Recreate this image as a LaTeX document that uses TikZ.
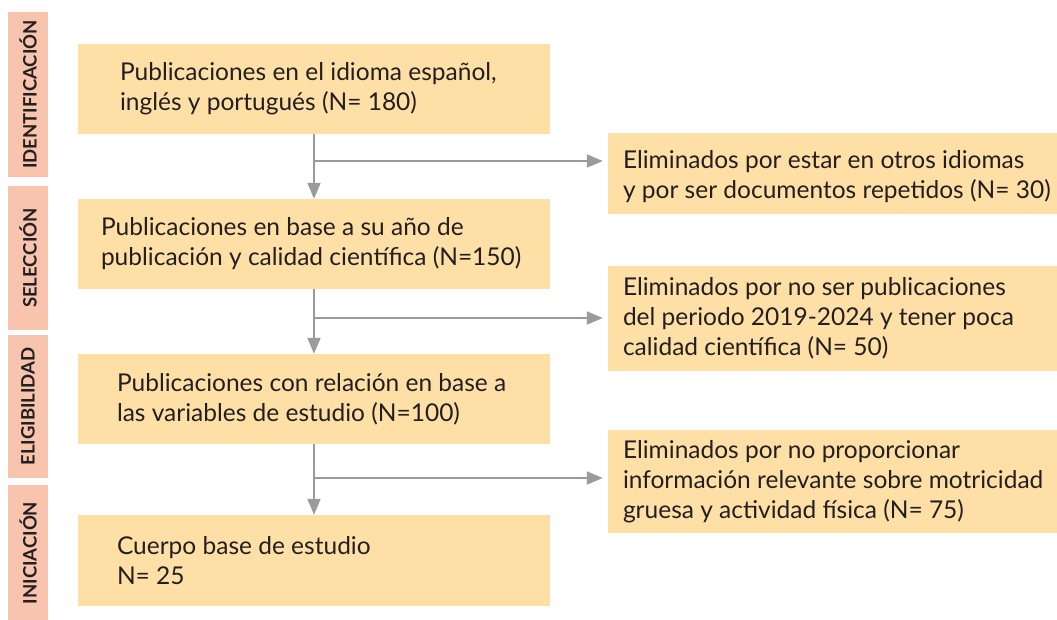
\documentclass[tikz,border=0pt]{standalone}
\usepackage{fontspec}
\setmainfont{Lato}
\usetikzlibrary{arrows.meta,calc}
\definecolor{boxfill}{HTML}{FEDFA6}
\definecolor{labfill}{HTML}{F8C4AE}
\definecolor{arrgray}{HTML}{9B9B9F}
\definecolor{ink}{HTML}{231F20}
\tikzset{
  mainbox/.style={draw=none, fill=boxfill, minimum width=472pt, inner sep=0pt},
  sidebox/.style={draw=none, fill=boxfill, minimum width=449pt, inner sep=0pt},
  labbox/.style={draw=none, fill=labfill, minimum width=40pt, inner sep=0pt},
  labtxt/.style={rotate=90, font=\fontsize{18.5}{20}\selectfont\bfseries, text=ink, inner sep=0pt},
  txt/.style={anchor=west, align=left, inner sep=0pt, text=ink, font=\fontsize{24.5}{30}\selectfont},
  arr/.style={draw=arrgray, line width=2pt, -{Triangle[length=16pt,width=13pt]}},
  ln/.style={draw=arrgray, line width=2pt}
}
\begin{document}
\begin{tikzpicture}[x=1pt,y=-1pt]
\useasboundingbox (0,0) rectangle (1057,619);
% stage labels
\node[labbox, minimum height=165pt] (l1) at (28,94.5) {};
\node[labtxt] (lt1) at (l1.center) {IDENTIFICACIÓN};
\node[labbox, minimum height=144pt] (l2) at (28,258) {};
\node[labtxt] (lt2) at (l2.center) {SELECCIÓN};
\node[labbox, minimum height=143pt] (l3) at (28,406.5) {};
\node[labtxt] (lt3) at (l3.center) {ELIGIBILIDAD};
\node[labbox, minimum height=136pt] (l4) at (28,553) {};
\node[labtxt] (lt4) at (l4.center) {INICIACIÓN};
% main boxes
\node[mainbox, minimum height=90pt] (b1) at (314,89) {};
\node[txt] (t1) at ([xshift=42pt]b1.west) {Publicaciones en el idioma español,\\inglés y portugués (N= 180)};
\node[mainbox, minimum height=90pt] (b2) at (314,244) {};
\node[txt] (t2) at ([xshift=23pt]b2.west) {Publicaciones en base a su año de\\publicación y calidad científica (N=150)};
\node[mainbox, minimum height=90pt] (b3) at (314,399) {};
\node[txt] (t3) at ([xshift=39pt]b3.west) {Publicaciones con relación en base a\\las variables de estudio (N=100)};
\node[mainbox, minimum height=91pt] (b4) at (314,560.5) {};
\node[txt] (t4) at ([xshift=39pt]b4.west) {Cuerpo base de estudio\\N= 25};
% side boxes
\node[sidebox, minimum height=81pt] (r1) at (832.5,173.5) {};
\node[txt] (s1) at ([xshift=15pt,yshift=-3pt]r1.west) {Eliminados por estar en otros idiomas\\y por ser documentos repetidos (N= 30)};
\node[sidebox, minimum height=105pt] (r2) at (832.5,318.5) {};
\node[txt] (s2) at ([xshift=15pt]r2.west) {Eliminados por no ser publicaciones\\del periodo 2019-2024 y tener poca\\calidad científica (N= 50)};
\node[sidebox, minimum height=103pt] (r3) at (832.5,481.5) {};
\node[txt] (s3) at ([xshift=15pt]r3.west) {Eliminados por no proporcionar\\información relevante sobre motricidad\\gruesa y actividad física (N= 75)};
% connectors
\draw[arr] (b1.south) -- (b2.north);
\draw[arr] (b2.south) -- (b3.north);
\draw[arr] (b3.south) -- (b4.north);
\coordinate (j1) at (314,161);
\coordinate (j2) at (314,318);
\coordinate (j3) at (314,478);
\draw[arr, shorten >=5pt] (j1) -- (j1 -| r1.west);
\draw[arr, shorten >=5pt] (j2) -- (j2 -| r2.west);
\draw[arr, shorten >=5pt] (j3) -- (j3 -| r3.west);
\end{tikzpicture}
\end{document}
